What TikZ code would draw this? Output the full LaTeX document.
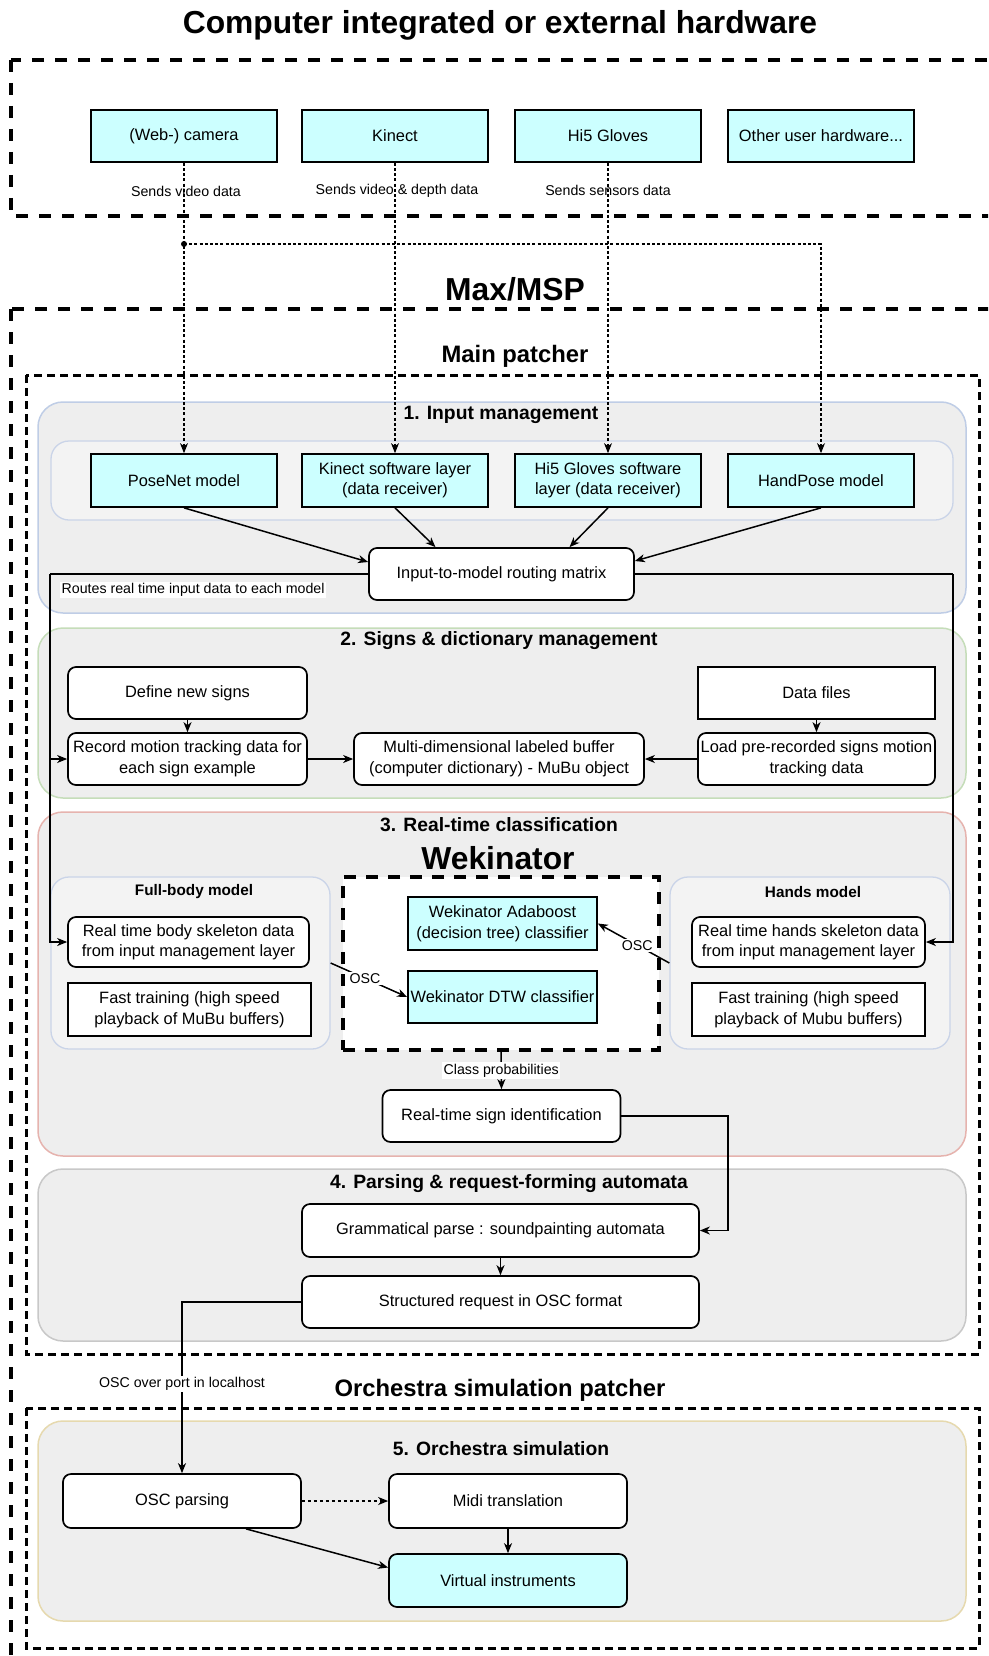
\documentclass[tikz,border=0pt]{standalone}
\usepackage{fontspec}
\setmainfont{Liberation Sans}
\usetikzlibrary{arrows.meta}
\definecolor{cyanfill}{HTML}{CCFFFF}
\definecolor{secfill}{HTML}{EEEEEE}
\definecolor{grpfill}{HTML}{F3F3F3}
\definecolor{grpline}{HTML}{CAD4E8}
\definecolor{sAline}{HTML}{BFCDE6}
\definecolor{sBline}{HTML}{C5DDB9}
\definecolor{sCline}{HTML}{E6B3AE}
\definecolor{sDline}{HTML}{C8C8C8}
\definecolor{sEline}{HTML}{E6D9AE}
\newcommand{\fnode}{\fontsize{16.4}{20.5}\selectfont}
\newcommand{\flabel}{\fontsize{14.2}{17}\selectfont}
\newcommand{\fsec}{\bfseries\fontsize{19.3}{23}\selectfont}
\newcommand{\fgrp}{\bfseries\fontsize{15.3}{18}\selectfont}
\newcommand{\fmid}{\bfseries\fontsize{23.8}{28}\selectfont}
\newcommand{\fbig}{\bfseries\fontsize{31.8}{38}\selectfont}
\begin{document}
\begin{tikzpicture}[x=1pt,y=-1pt,
  base/.style={draw=black, line width=1.7pt, align=center, inner sep=2pt, font=\fnode, text=black},
  sz/.style 2 args={minimum width=#1pt, minimum height=#2pt},
  cbox/.style={base, fill=cyanfill},
  cround/.style={cbox, rounded corners=8pt},
  wbox/.style={base, fill=white},
  wround/.style={wbox, rounded corners=8pt},
  sec/.style={fill=secfill, line width=1.5pt, rounded corners=25pt},
  grp/.style={draw=grpline, fill=grpfill, line width=1.3pt, rounded corners=18pt, inner sep=0pt},
  conn/.style={draw=black, line width=1.5pt, -{Stealth[length=10pt,width=8pt,inset=3pt]}},
  plain/.style={draw=black, line width=1.5pt},
  dotconn/.style={draw=black, line width=1.1pt, dash pattern=on 3pt off 2.2pt, -{Stealth[length=10pt,width=8pt,inset=3pt]}},
  dotthick/.style={draw=black, line width=2pt, dash pattern=on 3pt off 3pt, -{Stealth[length=10pt,width=8pt,inset=3pt]}},
  bigdash/.style={draw=black, line width=3.5pt, dash pattern=on 12pt off 11pt},
  middash/.style={draw=black, line width=3pt, dash pattern=on 8pt off 5pt},
  lbl/.style={font=\flabel, inner sep=1.5pt, text=black},
  lblw/.style={lbl, fill=white},
  sectitle/.style={font=\fsec, text=black},
  bigtitle/.style={font=\fbig, text=black},
  midtitle/.style={font=\fmid, text=black},
  grptitle/.style={font=\fgrp, text=black}
]
\clip (0,0) rectangle (988,1656);
\fill[white] (0,0) rectangle (988,1656);

% ---------- outer frames and titles ----------
\node[bigtitle] (t1) at (500,25) {Computer integrated or external hardware};
\draw[bigdash] (11,60) rectangle (1010,216);
\node[bigtitle] (t2) at (515,289) {Max/MSP};
\draw[bigdash] (11,309) rectangle (1010,1720);
\node[midtitle] (t3) at (515,356) {Main patcher};
\draw[middash] (26,375) rectangle (979,1354);
\node[midtitle] (t4) at (500,1390) {Orchestra simulation patcher};
\draw[middash] (26,1408) rectangle (979,1648);

% ---------- sections ----------
\draw[sec, draw=sAline] (38,402) rectangle (966,613);
\draw[grp] (51,441) rectangle (953,520);
\node[sectitle] (s1t) at (501,415) {1. Input management};

\draw[sec, draw=sBline] (38,628) rectangle (966,798);
\node[sectitle] (s2t) at (499,641) {2. Signs \& dictionary management};

\draw[sec, draw=sCline] (38,812) rectangle (966,1156);
\node[sectitle] (s3t) at (499,825) {3. Real-time classification};

\draw[sec, draw=sDline] (38,1169) rectangle (966,1341);
\node[sectitle] (s4t) at (509,1184) {4. Parsing \& request-forming automata};

\draw[sec, draw=sEline] (38,1421) rectangle (966,1621);
\node[sectitle] (s5t) at (501,1449) {5. Orchestra simulation};

% ---------- hardware ----------
\node[cbox, sz={186}{52}] (cam) at (184,136) {(Web-) camera};
\node[cbox, sz={186}{52}] (kin) at (395,136) {Kinect};
\node[cbox, sz={186}{52}] (hi5) at (608,136) {Hi5 Gloves};
\node[cbox, sz={186}{52}] (oth) at (821,136) {Other user hardware...};
\node[lbl] (lcam) at (186,191) {Sends video data};
\node[lbl] (lkin) at (397,191) {Sends video \& depth data};
\node[lbl] (lhi5) at (608,190) {Sends sensors data};

% ---------- input management ----------
\node[cbox, sz={186}{53}] (pose) at (184,480.5) {PoseNet model};
\node[cbox, sz={186}{53}] (kins) at (395,480.5) {Kinect software layer\\(data receiver)};
\node[cbox, sz={186}{53}] (hi5s) at (608,480.5) {Hi5 Gloves software\\layer (data receiver)};
\node[cbox, sz={186}{53}] (hand) at (821,480.5) {HandPose model};
\node[wround, sz={265}{52}] (route) at (501.5,574) {Input-to-model routing matrix};

% ---------- signs & dictionary ----------
\node[wround, sz={239}{52}] (def) at (187.5,693) {Define new signs};
\node[wbox, sz={237}{52}] (files) at (816.5,693) {Data files};
\node[wround, sz={239}{52}] (rec) at (187.5,759) {Record motion tracking data for\\each sign example};
\node[wround, sz={290}{52}] (mubu) at (499,759) {Multi-dimensional labeled buffer\\(computer dictionary) - MuBu object};
\node[wround, sz={237}{52}] (load) at (816.5,759) {Load pre-recorded signs motion\\tracking data};

% ---------- real-time classification ----------
\node[grp, sz={279}{172}] (fb) at (190.5,963) {};
\node[grptitle] (fbt) at (194,892) {Full-body model};
\node[wround, sz={241}{50}] (body) at (188.5,942) {Real time body skeleton data\\from input management layer};
\node[wbox, sz={243}{53}] (ftl) at (189.5,1009.5) {Fast training (high speed\\playback of MuBu buffers)};

\node[draw=black, fill=white, line width=3.5pt, dash pattern=on 12pt off 10pt, sz={316}{173}] (wek) at (501,963.5) {};
\node[bigtitle] (wekt) at (498,858) {Wekinator};
\node[cbox, sz={189}{53}] (ada) at (502.5,923.5) {Wekinator Adaboost\\(decision tree) classifier};
\node[cbox, sz={189}{52}] (dtw) at (502.5,997) {Wekinator DTW classifier};

\node[grp, sz={280}{172}] (hm) at (810,963) {};
\node[grptitle] (hmt) at (813,892) {Hands model};
\node[wround, sz={233}{50}] (hands) at (808.5,942) {Real time hands skeleton data\\from input management layer};
\node[wbox, sz={233}{53}] (ftr) at (808.5,1009.5) {Fast training (high speed\\playback of Mubu buffers)};

\node[wround, sz={238}{52}] (sign) at (501.5,1116) {Real-time sign identification};

% ---------- parsing ----------
\node[wround, sz={397}{53}] (gram) at (500.5,1230.5) {Grammatical parse : soundpainting automata};
\node[wround, sz={397}{52}] (struct) at (500.5,1302) {Structured request in OSC format};

% ---------- orchestra ----------
\node[wround, sz={238}{54}] (osc) at (182,1501) {OSC parsing};
\node[wround, sz={238}{54}] (midi) at (508,1501) {Midi translation};
\node[cround, sz={238}{53}] (virt) at (508,1580.5) {Virtual instruments};

% ---------- connectors ----------
\coordinate (dot) at (184,244);
\draw[dotconn] (cam.south) -- (pose.north);
\draw[dotconn] (dot) -| (hand.north);
\fill[black] (dot) circle (3pt);
\draw[dotconn] (kin.south) -- (kins.north);
\draw[dotconn] (hi5.south) -- (hi5s.north);

\draw[conn] (pose.south) -- ([yshift=12pt]route.west);
\draw[conn] (kins.south) -- ([xshift=-66pt]route.north);
\draw[conn] (hi5s.south) -- ([xshift=68pt]route.north);
\draw[conn] (hand.south) -- ([yshift=13pt]route.east);

\coordinate (rl) at (50,574);
\coordinate (rr) at (953,574);
\draw[plain] (route.west) -- (rl);
\draw[conn] (rl) |- (rec.west);
\draw[conn] (rl) |- (body.west);
\draw[plain] (route.east) -- (rr);
\draw[conn] (rr) |- (hands.east);
\node[lblw, anchor=west] (routes) at (60,590) {Routes real time input data to each model};

\draw[conn] (def.south) -- (rec.north);
\draw[conn] (files.south) -- (load.north);
\draw[conn] (rec.east) -- (mubu.west);
\draw[conn] (load.west) -- (mubu.east);

\draw[conn] (fb.east) -- node[lblw, pos=0.45] (osc1) {OSC} (dtw.west);
\draw[conn] (hm.west) -- node[lblw, pos=0.45] (osc2) {OSC} (ada.east);
\draw[conn] (wek.south) -- node[lblw] (cp) {Class probabilities} (sign.north);

\coordinate (sc) at (728,1116);
\draw[conn] (sign.east) -- (sc) |- (gram.east);
\draw[conn] (gram.south) -- (struct.north);
\draw[conn] (struct.west) -| node[lblw, pos=0.74] (port) {OSC over port in localhost} (osc.north);

\draw[dotthick] (osc.east) -- (midi.west);
\draw[conn] (midi.south) -- (virt.north);
\draw[conn] ([xshift=64pt]osc.south) -- ([yshift=13pt]virt.west);
\end{tikzpicture}
\end{document}
